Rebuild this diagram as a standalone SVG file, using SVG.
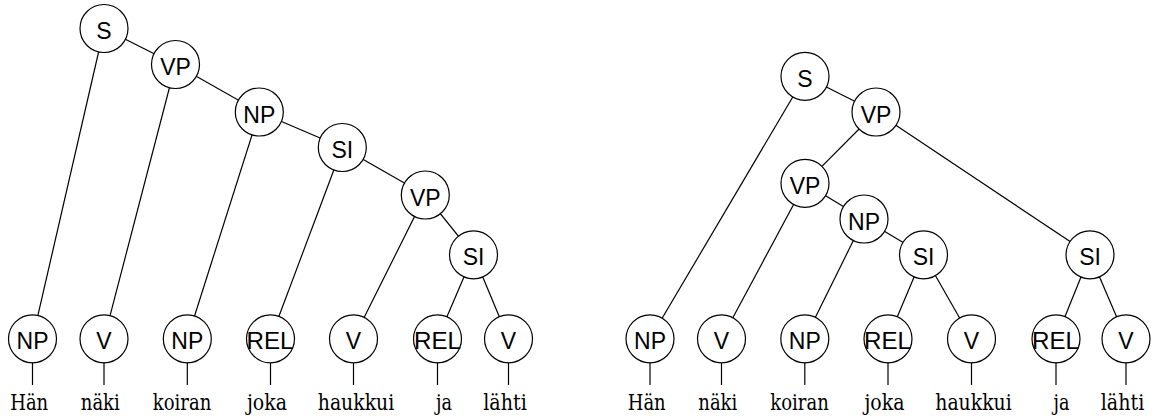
<svg xmlns="http://www.w3.org/2000/svg" width="1154" height="416" viewBox="0 0 1154 416">
<style>
.e{stroke:#000;stroke-width:1.2;fill:none}
.n circle{fill:#fff;stroke:#000;stroke-width:1.2}
.n text{font-family:'Liberation Sans',Arial,sans-serif;font-size:23px;text-anchor:middle;fill:#000}
.words text{font-family:'DejaVu Serif',serif;font-size:21.5px;text-anchor:middle;fill:#000}
</style>
<rect width="1154" height="416" fill="#fff"/>
<g id="connectors">
<line class="e" x1="104" y1="28.5" x2="175.5" y2="64.5"/>
<line class="e" x1="104" y1="28.5" x2="32.5" y2="338.8"/>
<line class="e" x1="175.5" y1="64.5" x2="259.3" y2="112"/>
<line class="e" x1="175.5" y1="64.5" x2="104" y2="338.8"/>
<line class="e" x1="259.3" y1="112" x2="342.3" y2="147.5"/>
<line class="e" x1="259.3" y1="112" x2="187.3" y2="338.8"/>
<line class="e" x1="342.3" y1="147.5" x2="425.3" y2="195"/>
<line class="e" x1="342.3" y1="147.5" x2="270.5" y2="338.8"/>
<line class="e" x1="425.3" y1="195" x2="473.5" y2="254.8"/>
<line class="e" x1="425.3" y1="195" x2="353.5" y2="338.8"/>
<line class="e" x1="473.5" y1="254.8" x2="437.5" y2="338.8"/>
<line class="e" x1="473.5" y1="254.8" x2="508.5" y2="338.8"/>
<line class="e" x1="32.5" y1="338.8" x2="32.5" y2="385"/>
<line class="e" x1="104" y1="338.8" x2="104" y2="385"/>
<line class="e" x1="187.3" y1="338.8" x2="187.3" y2="385"/>
<line class="e" x1="270.5" y1="338.8" x2="270.5" y2="385"/>
<line class="e" x1="353.5" y1="338.8" x2="353.5" y2="385"/>
<line class="e" x1="437.5" y1="338.8" x2="437.5" y2="385"/>
<line class="e" x1="508.5" y1="338.8" x2="508.5" y2="385"/>
<line class="e" x1="805" y1="76.3" x2="876" y2="112"/>
<line class="e" x1="805" y1="76.3" x2="650" y2="338.8"/>
<line class="e" x1="876" y1="112" x2="805" y2="183.3"/>
<line class="e" x1="876" y1="112" x2="1090" y2="254.8"/>
<line class="e" x1="805" y1="183.3" x2="721.5" y2="338.8"/>
<line class="e" x1="805" y1="183.3" x2="864" y2="219"/>
<line class="e" x1="864" y1="219" x2="804.8" y2="338.8"/>
<line class="e" x1="864" y1="219" x2="923.5" y2="254.8"/>
<line class="e" x1="923.5" y1="254.8" x2="888" y2="338.8"/>
<line class="e" x1="923.5" y1="254.8" x2="971.5" y2="338.8"/>
<line class="e" x1="1090" y1="254.8" x2="1056" y2="338.8"/>
<line class="e" x1="1090" y1="254.8" x2="1126" y2="338.8"/>
<line class="e" x1="650" y1="338.8" x2="650" y2="385"/>
<line class="e" x1="721.5" y1="338.8" x2="721.5" y2="385"/>
<line class="e" x1="804.8" y1="338.8" x2="804.8" y2="385"/>
<line class="e" x1="888" y1="338.8" x2="888" y2="385"/>
<line class="e" x1="971.5" y1="338.8" x2="971.5" y2="385"/>
<line class="e" x1="1056" y1="338.8" x2="1056" y2="385"/>
<line class="e" x1="1126" y1="338.8" x2="1126" y2="385"/>
</g>
<g id="L_S" class="n"><circle cx="104" cy="28.5" r="24"/><text x="104" y="39">S</text></g>
<g id="L_VP1" class="n"><circle cx="175.5" cy="64.5" r="24"/><text x="175.5" y="75">VP</text></g>
<g id="L_NP1" class="n"><circle cx="259.3" cy="112" r="24"/><text x="259.3" y="122.5">NP</text></g>
<g id="L_SI1" class="n"><circle cx="342.3" cy="147.5" r="24"/><text x="342.3" y="158">SI</text></g>
<g id="L_VP2" class="n"><circle cx="425.3" cy="195" r="24"/><text x="425.3" y="205.5">VP</text></g>
<g id="L_SI2" class="n"><circle cx="473.5" cy="254.8" r="24"/><text x="473.5" y="265.3">SI</text></g>
<g id="L_NP_han" class="n"><circle cx="32.5" cy="338.8" r="24"/><text x="32.5" y="349.3">NP</text></g>
<g id="L_V_naki" class="n"><circle cx="104" cy="338.8" r="24"/><text x="104" y="349.3">V</text></g>
<g id="L_NP_koiran" class="n"><circle cx="187.3" cy="338.8" r="24"/><text x="187.3" y="349.3">NP</text></g>
<g id="L_REL_joka" class="n"><circle cx="270.5" cy="338.8" r="24"/><text x="270" y="349.3" textLength="47" lengthAdjust="spacingAndGlyphs">REL</text></g>
<g id="L_V_haukkui" class="n"><circle cx="353.5" cy="338.8" r="24"/><text x="353.5" y="349.3">V</text></g>
<g id="L_REL_ja" class="n"><circle cx="437.5" cy="338.8" r="24"/><text x="437.5" y="349.3" textLength="47" lengthAdjust="spacingAndGlyphs">REL</text></g>
<g id="L_V_lahti" class="n"><circle cx="508.5" cy="338.8" r="24"/><text x="508.5" y="349.3">V</text></g>
<g id="R_S" class="n"><circle cx="805" cy="76.3" r="24"/><text x="805" y="86.8">S</text></g>
<g id="R_VP1" class="n"><circle cx="876" cy="112" r="24"/><text x="876" y="122.5">VP</text></g>
<g id="R_VP2" class="n"><circle cx="805" cy="183.3" r="24"/><text x="805" y="193.8">VP</text></g>
<g id="R_NP1" class="n"><circle cx="864" cy="219" r="24"/><text x="864" y="229.5">NP</text></g>
<g id="R_SI1" class="n"><circle cx="923.5" cy="254.8" r="24"/><text x="923.5" y="265.3">SI</text></g>
<g id="R_SI2" class="n"><circle cx="1090" cy="254.8" r="24"/><text x="1090" y="265.3">SI</text></g>
<g id="R_NP_han" class="n"><circle cx="650" cy="338.8" r="24"/><text x="650" y="349.3">NP</text></g>
<g id="R_V_naki" class="n"><circle cx="721.5" cy="338.8" r="24"/><text x="721.5" y="349.3">V</text></g>
<g id="R_NP_koiran" class="n"><circle cx="804.8" cy="338.8" r="24"/><text x="804.8" y="349.3">NP</text></g>
<g id="R_REL_joka" class="n"><circle cx="888" cy="338.8" r="24"/><text x="887.5" y="349.3" textLength="47" lengthAdjust="spacingAndGlyphs">REL</text></g>
<g id="R_V_haukkui" class="n"><circle cx="971.5" cy="338.8" r="24"/><text x="971.5" y="349.3">V</text></g>
<g id="R_REL_ja" class="n"><circle cx="1056" cy="338.8" r="24"/><text x="1055.5" y="349.3" textLength="47" lengthAdjust="spacingAndGlyphs">REL</text></g>
<g id="R_V_lahti" class="n"><circle cx="1126" cy="338.8" r="24"/><text x="1126" y="349.3">V</text></g>
<g id="L_words" class="words">
<text x="29.2" y="410" textLength="38" lengthAdjust="spacingAndGlyphs">Hän</text>
<text x="100.3" y="410" textLength="39" lengthAdjust="spacingAndGlyphs">näki</text>
<text x="182" y="410" textLength="58.5" lengthAdjust="spacingAndGlyphs">koiran</text>
<text x="267" y="410" textLength="40" lengthAdjust="spacingAndGlyphs">joka</text>
<text x="356" y="410" textLength="76.5" lengthAdjust="spacingAndGlyphs">haukkui</text>
<text x="444" y="410" textLength="16" lengthAdjust="spacingAndGlyphs">ja</text>
<text x="505" y="410" textLength="43.5" lengthAdjust="spacingAndGlyphs">lähti</text>
</g>
<g id="R_words" class="words">
<text x="646.7" y="410" textLength="38" lengthAdjust="spacingAndGlyphs">Hän</text>
<text x="717.8" y="410" textLength="39" lengthAdjust="spacingAndGlyphs">näki</text>
<text x="799.5" y="410" textLength="58.5" lengthAdjust="spacingAndGlyphs">koiran</text>
<text x="884.5" y="410" textLength="40" lengthAdjust="spacingAndGlyphs">joka</text>
<text x="973.5" y="410" textLength="76.5" lengthAdjust="spacingAndGlyphs">haukkui</text>
<text x="1061.5" y="410" textLength="16" lengthAdjust="spacingAndGlyphs">ja</text>
<text x="1122.5" y="410" textLength="43.5" lengthAdjust="spacingAndGlyphs">lähti</text>
</g>
</svg>
